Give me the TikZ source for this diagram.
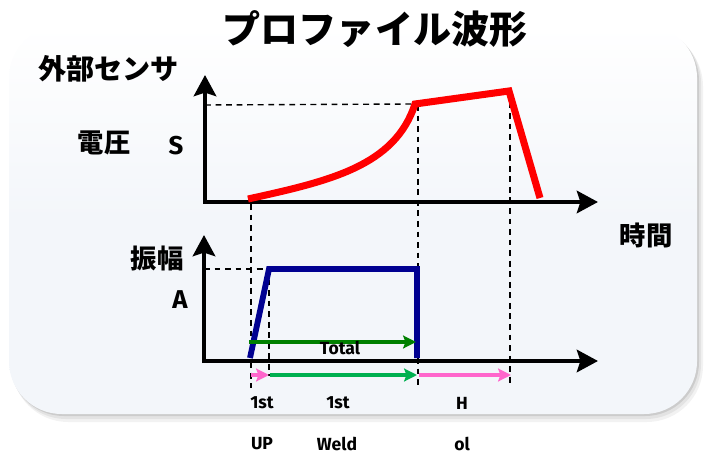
\documentclass[tikz,border=0pt]{standalone}
\usepackage{fontspec}
\setmainfont{Fira Sans}
\newfontfamily\jp{Noto Sans CJK JP}
\usetikzlibrary{arrows.meta}
\definecolor{boxfill}{RGB}{243,246,250}
\definecolor{navyline}{RGB}{0,0,145}
\definecolor{darkgreen}{RGB}{0,128,0}
\definecolor{lightgreen}{RGB}{0,176,80}
\definecolor{pinkline}{RGB}{255,102,204}
\tikzset{
  axisline/.style={line width=4.2pt,-{Stealth[length=18pt,width=19pt,inset=3pt]}},
  dashline/.style={line width=1.2pt,dash pattern=on 5pt off 4pt},
  jplabel/.style={font=\jp\bfseries\fontsize{22.5}{25}\selectfont,inner sep=0pt},
  latinbig/.style={font=\bfseries\fontsize{22}{26}\selectfont,inner sep=0pt},
  smalllabel/.style={font=\bfseries\fontsize{15}{18}\selectfont,inner sep=0pt},
  spanarrow/.style={line width=2.6pt,-{Stealth[length=11pt,width=11pt,inset=2pt]}}
}
\begin{document}
\begin{tikzpicture}[x=0.03cm,y=-0.03cm]
\useasboundingbox (0,0) rectangle (707,457);
% shadow and box
\fill[black!5,rounded corners=48] (12,30) rectangle (703,422);
\fill[black!11,rounded corners=47] (11,28) rectangle (701,419);
\fill[black!20,rounded corners=46] (10,27) rectangle (699,416);
\shade[top color=white,bottom color=boxfill,middle color=boxfill,rounded corners=45] (9,25) rectangle (697,414);
% title
\node[font=\jp\bfseries\fontsize{32.5}{35}\selectfont,inner sep=0pt] (title) at (375,29) {プロファイル波形};
\node[font=\jp\bfseries\fontsize{24}{27}\selectfont,inner sep=0pt,anchor=west] (sensor) at (38,69) {外部センサ};
\node[jplabel] (volt) at (104,143) {電圧};
\node[latinbig] (S) at (176,146) {S};
\node[jplabel] (time) at (646,235) {時間};
\node[jplabel] (amp) at (157,258) {振幅};
\node[latinbig] (A) at (180,300) {A};
% upper axes
\coordinate (uo) at (205,202);
\coordinate (uy) at (205,75);
\coordinate (ux) at (598,202);
\draw[axisline] (205,204) -- (uy);
\draw[axisline] (203,202) -- (ux);
% lower axes
\coordinate (lo) at (204,361);
\coordinate (ly) at (204,235);
\coordinate (lx) at (598,361);
\draw[axisline] (204,363) -- (ly);
\draw[axisline] (202,361) -- (lx);
% key points
\coordinate (r0) at (248,199);
\coordinate (r1) at (415,104);
\coordinate (r2) at (509,91);
\coordinate (r3) at (540,198);
\coordinate (b0) at (250,358);
\coordinate (b1) at (269,269);
\coordinate (b2) at (417,269);
\coordinate (b3) at (417,358);
% dashed guides
\draw[dashline] (205,105) -- (r1);
\draw[dashline] (204,269) -- (b1);
\draw[dashline] (251,204) -- (251,388);
\draw[dashline] (269,269) -- (269,376);
\draw[dashline] (418,105) -- (418,389);
\draw[dashline] (510,92) -- (510,383);
% red voltage curve
\draw[red,line width=6pt] (r0) .. controls (330,181) and (395,166) .. (r1) -- (r2) -- (r3);
% blue amplitude
\draw[navyline,line width=5pt] (b0) -- (b1) -- (b2) -- (b3);
% span arrows
\coordinate (t0) at (249,342);
\coordinate (t1) at (416,342);
\draw[spanarrow,darkgreen] (t0) -- (t1);
\node[smalllabel] (total) at (340,348) {Total};
\coordinate (s0) at (251,375);
\coordinate (s1) at (269,375);
\coordinate (s2) at (417,375);
\coordinate (s3) at (419,375);
\coordinate (s4) at (511,375);
\draw[spanarrow,pinkline] (s0) -- (s1);
\draw[spanarrow,lightgreen] (270,375) -- (s2);
\draw[spanarrow,pinkline] (s3) -- (s4);
% bottom labels
\node[smalllabel] (l1) at (262,403) {1st};
\node[smalllabel] (l2) at (338,403) {1st};
\node[smalllabel] (l3) at (462,403) {H};
\node[smalllabel] (l4) at (262,444) {UP};
\node[smalllabel] (l5) at (337,444) {Weld};
\node[smalllabel] (l6) at (462,444) {ol};
\end{tikzpicture}
\end{document}
